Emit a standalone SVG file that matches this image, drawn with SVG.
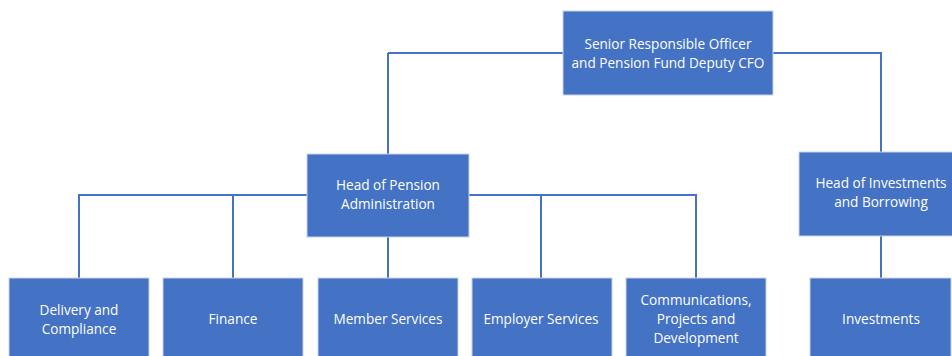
<svg xmlns="http://www.w3.org/2000/svg" width="952" height="356" viewBox="0 0 952 356">
<style>
.box{fill:#4472C4;stroke:#c9d3e6;stroke-width:1}
.t{font-family:"Open Sans","Liberation Sans",sans-serif;font-size:13.6px;fill:#ffffff;text-anchor:middle}
.c{fill:none;stroke:#4472C4;stroke-width:2}
</style>
<rect width="952" height="356" fill="#ffffff"/>
<g id="connectors">
<path class="c" d="M388 53 H563 M773 53 H881 V152 M388 53 V154"/>
<path class="c" d="M79 278 V195 H307 M469 195 H696 V278 M233 195 V278 M541 195 V278 M388 237 V278"/>
<path class="c" d="M881 236 V278"/>
</g>
<g id="sro">
<rect class="box" x="563" y="11" width="210" height="84"/>
<text class="t" x="668" y="49">Senior Responsible Officer</text>
<text class="t" x="668" y="68">and Pension Fund Deputy CFO</text>
</g>
<g id="head-pension">
<rect class="box" x="307" y="154" width="162" height="83"/>
<text class="t" x="388" y="190">Head of Pension</text>
<text class="t" x="388" y="209">Administration</text>
</g>
<g id="head-investments">
<rect class="box" x="799" y="152" width="164" height="84"/>
<text class="t" x="881" y="188">Head of Investments</text>
<text class="t" x="881" y="207">and Borrowing</text>
</g>
<g id="delivery">
<rect class="box" x="9" y="278" width="140" height="90"/>
<text class="t" x="79" y="315">Delivery and</text>
<text class="t" x="79" y="334">Compliance</text>
</g>
<g id="finance">
<rect class="box" x="163" y="278" width="140" height="90"/>
<text class="t" x="233" y="324">Finance</text>
</g>
<g id="member-services">
<rect class="box" x="318" y="278" width="140" height="90"/>
<text class="t" x="388" y="324">Member Services</text>
</g>
<g id="employer-services">
<rect class="box" x="472" y="278" width="140" height="90"/>
<text class="t" x="541" y="324">Employer Services</text>
</g>
<g id="communications">
<rect class="box" x="626" y="278" width="140" height="90"/>
<text class="t" x="696" y="305">Communications,</text>
<text class="t" x="696" y="324">Projects and</text>
<text class="t" x="696" y="343">Development</text>
</g>
<g id="investments">
<rect class="box" x="810" y="278" width="141" height="90"/>
<text class="t" x="881" y="324">Investments</text>
</g>
</svg>
